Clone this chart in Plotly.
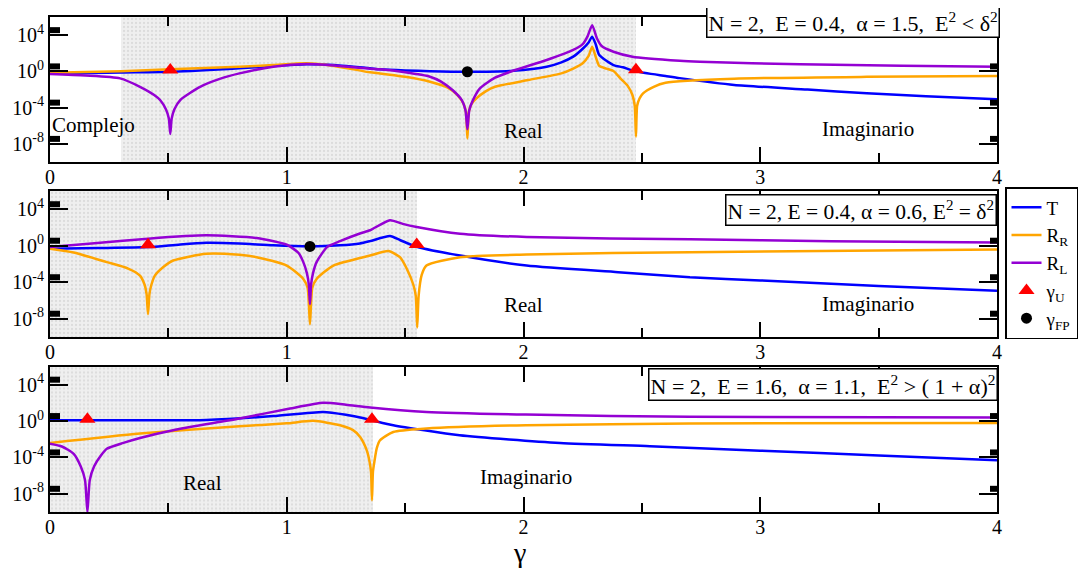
import plotly.graph_objects as go

FONT = "Liberation Serif"
BLUE = "#0000ff"
ORANGE = "#ffa500"
PURPLE = "#9400d3"

# ---------------- Panel 1: N=2, E=0.4, alpha=1.5 ----------------
g_T1 = [0, 0.3, 0.508, 0.8, 0.943, 1.084, 1.2, 1.352, 1.394, 1.5, 1.605, 1.763, 1.956, 2.098, 2.16, 2.21,
        2.25, 2.275, 2.29, 2.305, 2.32, 2.38, 2.42, 2.475, 2.6, 2.66, 2.89, 3.2, 3.45, 3.7, 4.0]
T1 = [0.56, 0.76, 0.91, 2.2, 4.0, 6.0, 5.0, 2.2, 1.7, 1.26, 1.05, 0.91, 1.17, 3.3, 10, 42,
      316, 1580, 6800, 1000, 63, 5.0, 2.8, 1.0, 0.31, 0.18, 0.032, 0.01, 0.0038, 0.0018, 0.00083]

g_RR1 = [0, 0.3, 0.508, 0.8, 0.943, 1.084, 1.2, 1.352, 1.394, 1.5, 1.605, 1.68, 1.72, 1.745, 1.757, 1.763,
         1.769, 1.78, 1.80, 1.84, 1.88, 2.02, 2.16, 2.21, 2.25, 2.275, 2.29, 2.305, 2.32, 2.35, 2.38, 2.41,
         2.44, 2.46, 2.47, 2.475, 2.48, 2.49, 2.505, 2.55, 2.6, 2.89, 3.45, 4.0]
RR1 = [0.71, 1.05, 1.7, 3.2, 5.0, 7.8, 4.0, 0.78, 0.6, 0.25, 0.072, 0.016, 0.0025, 3.2e-4, 3.2e-5, 4e-8,
       3.2e-5, 2.5e-4, 1e-3, 6.3e-3, 0.02, 0.11, 0.6, 2.0, 7.8, 50, 525, 40, 4.0, 2.0, 1.12, 0.16,
       0.025, 0.0025, 1.6e-4, 6.3e-8, 1.6e-4, 1e-3, 3.8e-3, 0.02, 0.056, 0.155, 0.25, 0.31]

g_RL1 = [0, 0.15, 0.296, 0.38, 0.44, 0.465, 0.49, 0.502, 0.508, 0.514, 0.525, 0.55, 0.634, 0.72, 0.80,
         0.943, 1.084, 1.2, 1.352, 1.394, 1.5, 1.605, 1.65, 1.70, 1.74, 1.755, 1.763, 1.771, 1.786, 1.816,
         1.88, 1.956, 2.098, 2.21, 2.25, 2.27, 2.29, 2.31, 2.33, 2.38, 2.46, 2.66, 2.745, 3.168, 3.6, 4.0]
RL1 = [0.51, 0.35, 0.17, 0.02, 0.0025, 6.9e-4, 6.3e-5, 6.3e-6, 1.26e-7, 6.3e-6, 6.3e-5, 6.9e-4, 0.02, 0.16, 0.6,
       3.3, 6.5, 4.5, 2.0, 1.7, 0.79, 0.26, 0.08, 8.7e-3, 6.3e-4, 5e-5, 4e-7, 5e-5, 6.3e-4, 0.0135,
       0.2, 1.17, 17.8, 230, 1000, 6800, 1.26e5, 4470, 630, 148, 42, 15, 11.7, 6.0, 4.2, 3.3]

gU1_x = [0.508, 2.475]
gU1_y = [1.4, 1.5]
gFP1_x = [1.763]
gFP1_y = [0.91]
shade1 = [0.30, 2.475]

# ---------------- Panel 2: N=2, E=0.4, alpha=0.6 ----------------
g_T2 = [0, 0.2, 0.414, 0.55, 0.66, 0.8, 0.943, 1.098, 1.225, 1.309, 1.352, 1.436, 1.48, 1.549, 1.732,
        2.013, 2.4, 2.703, 3.0, 3.5, 4.0]
T2 = [0.47, 0.56, 0.71, 1.41, 2.1, 1.78, 1.1, 0.85, 1.1, 1.78, 3.2, 11.7, 4.0, 0.79, 0.085,
      6.8e-3, 1.26e-3, 3.5e-4, 1.6e-4, 4e-5, 1.17e-5]

g_RR2 = [0, 0.1, 0.24, 0.33, 0.38, 0.40, 0.408, 0.414, 0.42, 0.428, 0.443, 0.48, 0.52, 0.66, 0.8, 0.873,
         1.0, 1.07, 1.088, 1.098, 1.108, 1.126, 1.197, 1.352, 1.43, 1.478, 1.507, 1.535, 1.545, 1.551,
         1.557, 1.57, 1.59, 1.732, 2.013, 2.703, 4.0]
RR2 = [0.47, 0.18, 0.016, 3.2e-3, 5.4e-4, 5e-5, 5e-6, 3.2e-8, 5e-6, 5e-5, 5.4e-4, 5e-3, 0.024, 0.13, 0.1, 0.056,
       6.8e-3, 2.3e-4, 2.5e-5, 2.5e-9, 2.5e-5, 2.3e-4, 6.8e-3, 0.085, 0.26, 0.056, 3e-3, 5e-5, 3.2e-6, 1.1e-9,
       3.2e-6, 6.3e-4, 6.8e-3, 0.056, 0.11, 0.2, 0.4]

g_RL2 = [0, 0.2, 0.414, 0.66, 0.873, 1.0, 1.05, 1.07, 1.085, 1.093, 1.098, 1.103, 1.111, 1.126, 1.17,
         1.225, 1.309, 1.352, 1.436, 1.49, 1.549, 1.732, 2.013, 2.703, 3.3, 4.0]
RL2 = [0.71, 2.0, 6.0, 13.8, 7.1, 1.32, 0.16, 0.016, 1e-3, 6.3e-5, 4e-7, 6.3e-5, 1e-3, 0.016, 0.71,
       3.2, 22, 50, 630, 250, 115, 21, 9.1, 5.0, 3.2, 2.3]

gU2_x = [0.414, 1.549]
gU2_y = [1.26, 1.35]
gFP2_x = [1.098]
gFP2_y = [0.85]
shade2 = [0.0, 1.55]

# ---------------- Panel 3: N=2, E=1.6, alpha=1.1 ----------------
g_T3 = [0, 0.3, 0.66, 0.943, 1.154, 1.25, 1.31, 1.36, 1.45, 1.73, 2.154, 2.534, 3.0, 3.5, 4.0]
T3 = [1.23, 1.23, 1.32, 3.5, 10.2, 5.0, 2.45, 1.23, 0.35, 0.0275, 3.9e-3, 1.7e-3, 5.6e-4, 1.6e-4, 4.8e-5]

g_RR3 = [0, 0.38, 0.8, 1.0, 1.112, 1.225, 1.28, 1.31, 1.338, 1.35, 1.356, 1.36, 1.364, 1.37, 1.38, 1.394,
         1.45, 1.59, 2.01, 2.7, 4.0]
RR3 = [3.9e-3, 0.043, 0.27, 0.56, 1.05, 0.35, 0.1, 0.018, 6e-4, 3.2e-5, 2.5e-6, 2e-9, 2.5e-6, 3.2e-5, 1e-3, 7.8e-3,
       0.063, 0.15, 0.35, 0.54, 0.63]

g_RL3 = [0, 0.05, 0.1, 0.13, 0.148, 0.158, 0.168, 0.186, 0.215, 0.24, 0.31, 0.38, 0.52, 0.8, 1.014, 1.154, 1.25,
         1.352, 1.59, 2.01, 2.7, 4.0]
RL3 = [3.3e-3, 1.6e-3, 2.5e-4, 1e-5, 3.2e-7, 1e-10, 3.2e-7, 1e-5, 1.6e-4, 9e-4, 4e-3, 0.014, 0.1, 1.9, 24, 100, 63,
       31, 10.2, 5.2, 2.9, 2.45]

gU3_x = [0.158, 1.36]
gU3_y = [1.6, 1.6]
shade3 = [0.0, 1.364]

# ---------------- labels ----------------
info_texts = [
    "N = 2,  E = 0.4,  α = 1.5,  E<sup>2</sup> &lt; δ<sup>2</sup>",
    "N = 2, E = 0.4, α = 0.6, E<sup>2</sup> = δ<sup>2</sup>",
    "N = 2,  E = 1.6,  α = 1.1,  E<sup>2</sup> &gt; ( 1 + α)<sup>2</sup>",
]
info_sizes = [22, 21.5, 22]
ytick_vals = [1e-8, 1e-4, 1, 1e4]
ytick_text = ["10<sup>-8</sup>", "10<sup>-4</sup>", "10<sup>0</sup>", "10<sup>4</sup>"]
xtick_vals = [0, 1, 2, 3, 4]

W, H = 1087, 571
OFF = 8  # page body margin of the html page


def px(v):
    return (v - OFF) / W


def py(v):
    return 1 - (v - OFF) / H


X_DOM = [px(50), px(997)]
Y_DOMS = [[py(162), py(17)], [py(337), py(191)], [py(512), py(366.5)]]

fig = go.Figure()

panels = [
    dict(T=(g_T1, T1), RR=(g_RR1, RR1), RL=(g_RL1, RL1), U=(gU1_x, gU1_y), FP=(gFP1_x, gFP1_y), shade=shade1),
    dict(T=(g_T2, T2), RR=(g_RR2, RR2), RL=(g_RL2, RL2), U=(gU2_x, gU2_y), FP=(gFP2_x, gFP2_y), shade=shade2),
    dict(T=(g_T3, T3), RR=(g_RR3, RR3), RL=(g_RL3, RL3), U=(gU3_x, gU3_y), FP=None, shade=shade3),
]

LINE = dict(width=2.5, shape="spline", smoothing=0.6)

for i, p in enumerate(panels):
    xa = "x" if i == 0 else f"x{i+1}"
    ya = "y" if i == 0 else f"y{i+1}"
    first = (i == 0)
    s0, s1 = p["shade"]
    fig.add_trace(go.Scatter(x=[s0, s1, s1, s0, s0], y=[1e-10, 1e-10, 1e6, 1e6, 1e-10],
                             fill="toself", mode="none", fillcolor="#ececec",
                             fillpattern=dict(shape=".", fgcolor="#c8c8c8", bgcolor="#efefef", size=4, solidity=0.25),
                             hoverinfo="skip", showlegend=False, xaxis=xa, yaxis=ya))
    fig.add_trace(go.Scatter(x=p["T"][0], y=p["T"][1], mode="lines", line=dict(color=BLUE, **LINE),
                             name="T", legendrank=1, showlegend=first, xaxis=xa, yaxis=ya))
    fig.add_trace(go.Scatter(x=p["RR"][0], y=p["RR"][1], mode="lines", line=dict(color=ORANGE, **LINE),
                             name="R<sub>R</sub>", legendrank=2, showlegend=first, xaxis=xa, yaxis=ya))
    fig.add_trace(go.Scatter(x=p["RL"][0], y=p["RL"][1], mode="lines", line=dict(color=PURPLE, **LINE),
                             name="R<sub>L</sub>", legendrank=3, showlegend=first, xaxis=xa, yaxis=ya))
    fig.add_trace(go.Scatter(x=p["U"][0], y=p["U"][1], mode="markers",
                             marker=dict(symbol="triangle-up", color="#ff0000", size=14),
                             name="γ<sub>U</sub>", legendrank=4, showlegend=first, xaxis=xa, yaxis=ya))
    if p["FP"] is not None:
        fig.add_trace(go.Scatter(x=p["FP"][0], y=p["FP"][1], mode="markers",
                                 marker=dict(symbol="circle", color="black", size=11),
                                 name="γ<sub>FP</sub>", legendrank=5, showlegend=first, xaxis=xa, yaxis=ya))

    axn = "" if i == 0 else str(i + 1)
    fig.update_layout(**{
        f"xaxis{axn}": dict(domain=X_DOM, range=[0, 4], anchor=ya, showgrid=False, zeroline=False,
                            automargin=False,
                            showline=True, linecolor="black", linewidth=2, mirror="ticks",
                            ticks="inside", ticklen=15, tickwidth=2, tickcolor="black",
                            tickmode="array", tickvals=xtick_vals, ticklabelstandoff=-4,
                            tickfont=dict(family=FONT, size=20, color="black"),
                            minor=dict(dtick=0.5, tick0=0, ticks="inside", ticklen=9, tickwidth=2,
                                       tickcolor="black", showgrid=False)),
        f"yaxis{axn}": dict(domain=Y_DOMS[i], type="log", range=[-10, 6], anchor=xa, showgrid=False,
                            zeroline=False, showline=True, linecolor="black", linewidth=2, mirror="ticks",
                            automargin=False,
                            ticks="inside", ticklen=18, tickwidth=2, tickcolor="black",
                            tickmode="array", tickvals=ytick_vals, ticktext=ytick_text,
                            tickfont=dict(family=FONT, size=20, color="black")),
    })

    # small black blocks next to y ticks
    for k in [4, 0, -4, -8]:
        yb0 = (k + 0.22 + 10) / 16
        yb1 = (k + 0.88 + 10) / 16
        fig.add_shape(type="rect", xref=f"{xa} domain", yref=f"{ya} domain", x0=0, x1=10 / 947,
                      y0=yb0, y1=yb1, fillcolor="black", line=dict(width=0))
        fig.add_shape(type="rect", xref=f"{xa} domain", yref=f"{ya} domain", x0=1 - 7 / 947, x1=1,
                      y0=yb0, y1=yb1, fillcolor="black", line=dict(width=0))

# info boxes
info_pos = [(px(1000), py(5)), (px(997), py(194)), (px(998), py(368))]
for t, s, (x, y) in zip(info_texts, info_sizes, info_pos):
    fig.add_annotation(text=t, xref="paper", yref="paper", x=x, y=y, xanchor="right", yanchor="top",
                       showarrow=False, bgcolor="white", bordercolor="black", borderwidth=1.5, borderpad=1,
                       font=dict(family=FONT, size=s, color="black"))

# region labels
region_labels = [
    ("x", "y", 0.0, 0.255, "Complejo", "left"),
    ("x", "y", 2.0, 0.214, "Real", "center"),
    ("x", "y", 3.455, 0.228, "Imaginario", "center"),
    ("x2", "y2", 2.0, 0.219, "Real", "center"),
    ("x2", "y2", 3.455, 0.226, "Imaginario", "center"),
    ("x3", "y3", 0.646, 0.2, "Real", "center"),
    ("x3", "y3", 2.01, 0.243, "Imaginario", "center"),
]
for xa, ya, x, y, t, anc in region_labels:
    fig.add_annotation(text=t, xref=xa, yref=f"{ya} domain", x=x, y=y, xanchor=anc, yanchor="middle",
                       showarrow=False, font=dict(family=FONT, size=21, color="black"))

# x axis title
fig.add_annotation(text="γ", xref="x3", yref="paper", x=1.985, y=py(552), xanchor="center",
                   yanchor="middle", showarrow=False, font=dict(family=FONT, size=28, color="black"))

fig.update_layout(
    width=W, height=H, margin=dict(l=0, r=0, t=0, b=0, autoexpand=False),
    paper_bgcolor="white", plot_bgcolor="white",
    showlegend=True,
    legend=dict(x=px(1005), y=py(187), xanchor="left", yanchor="top", bgcolor="white",
                bordercolor="black", borderwidth=1.5, font=dict(family=FONT, size=19, color="black"),
                itemwidth=30, tracegroupgap=0, traceorder="normal"),
)

fig.write_html("out.html")
